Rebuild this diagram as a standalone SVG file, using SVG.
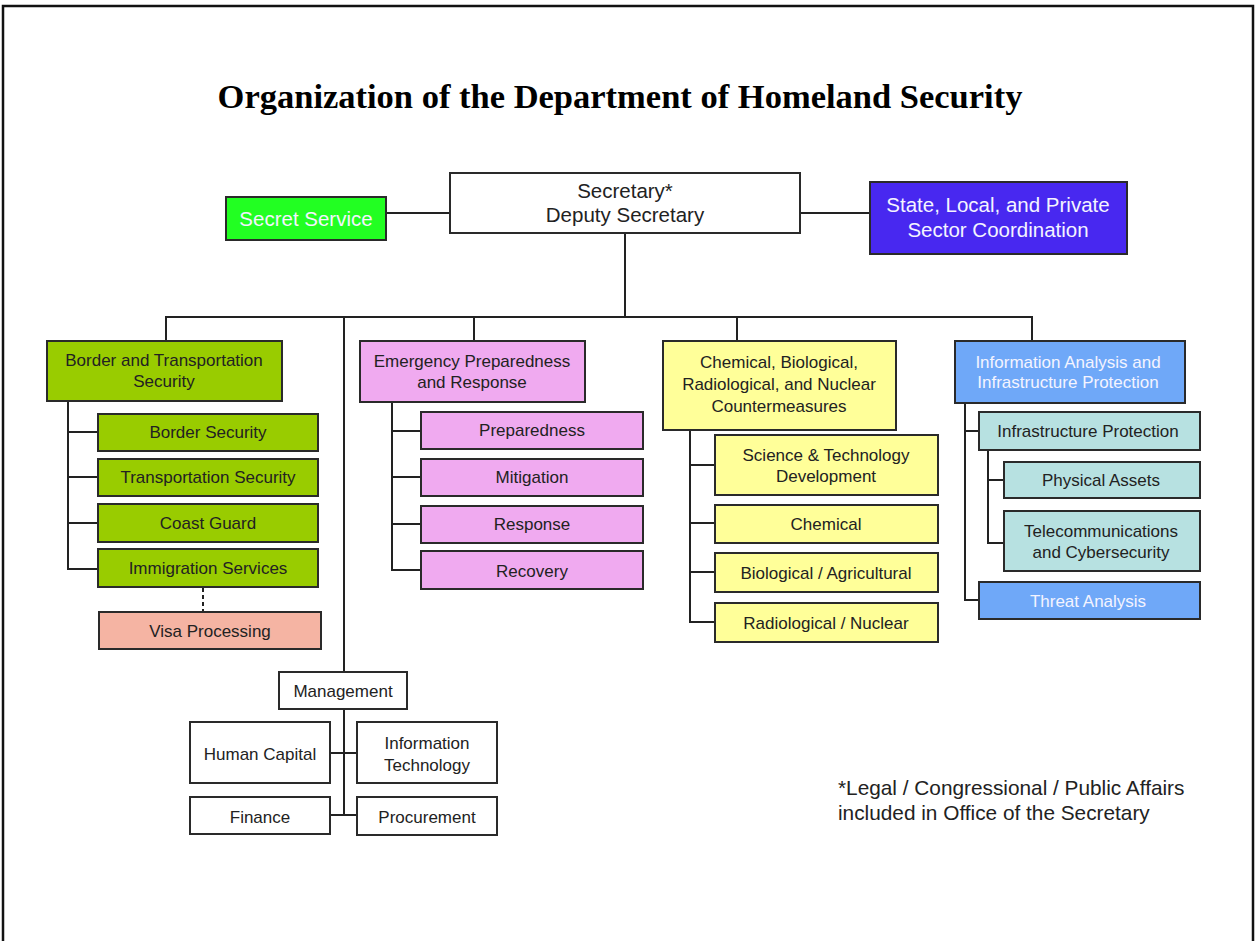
<svg xmlns="http://www.w3.org/2000/svg" width="1256" height="941" viewBox="0 0 1256 941">
<style>
  .b { stroke: #2a2a2a; stroke-width: 2; }
  .w { fill: #ffffff; }
  .t { font-family: "Liberation Sans", Arial, sans-serif; font-size: 17px; fill: #222222; text-anchor: middle; }
  .tl { font-family: "Liberation Sans", Arial, sans-serif; font-size: 20.5px; fill: #222222; text-anchor: middle; }
  .wt { fill: #f4f4ff; }
  .c { stroke: #222222; stroke-width: 2; fill: none; }
  .green { fill: #99cc00; }
  .violet { fill: #f0aaf0; }
  .yellow { fill: #ffff99; }
  .blue { fill: #6fa8f8; }
  .teal { fill: #b7e1e1; }
</style>
<rect x="0" y="0" width="1256" height="941" fill="#ffffff"/>
<path d="M3 941 V6 H1253 V941" fill="none" stroke="#111111" stroke-width="2.5"/>
<text x="620" y="108" font-family="'Liberation Serif', 'Times New Roman', serif" font-size="34.5" font-weight="bold" text-anchor="middle" fill="#000000">Organization of the Department of Homeland Security</text>

<g id="connectors">
  <path class="c" d="M386 213 H450"/>
  <path class="c" d="M800 213 H870"/>
  <path class="c" d="M625 233 V317"/>
  <path class="c" d="M166 341 V317 H1032 V341"/>
  <path class="c" d="M344 317 V672"/>
  <path class="c" d="M474 317 V341"/>
  <path class="c" d="M737 317 V341"/>
  <path class="c" d="M68 401 V569 H98 M68 432 H98 M68 477 H98 M68 523 H98"/>
  <path class="c" d="M203 588 V612" stroke-dasharray="4,3"/>
  <path class="c" d="M392 402 V570 H421 M392 431 H421 M392 477 H421 M392 524 H421"/>
  <path class="c" d="M690 430 V622 H715 M690 465 H715 M690 523 H715 M690 572 H715"/>
  <path class="c" d="M965 403 V600 H979 M965 431 H979"/>
  <path class="c" d="M988 450 V543 H1004 M988 480 H1004"/>
  <path class="c" d="M344 709 V815 M330 753 H357 M330 815 H357"/>
</g>

<g id="secretary">
  <rect class="b w" x="450" y="173" width="350" height="60"/>
  <text class="tl" x="625" y="198">Secretary*</text>
  <text class="tl" x="625" y="222">Deputy Secretary</text>
</g>
<g id="secret-service">
  <rect class="b" fill="#22ff22" x="226" y="197" width="160" height="43"/>
  <text class="tl wt" x="306" y="226">Secret Service</text>
</g>
<g id="state-local">
  <rect class="b" fill="#4828f0" x="870" y="182" width="257" height="72"/>
  <text class="tl wt" x="998" y="212">State, Local, and Private</text>
  <text class="tl wt" x="998" y="237">Sector Coordination</text>
</g>

<g id="bts">
  <rect class="b green" x="47" y="341" width="235" height="60"/>
  <text class="t" x="164" y="366">Border and Transportation</text>
  <text class="t" x="164" y="387">Security</text>
</g>
<g id="border-security">
  <rect class="b green" x="98" y="414" width="220" height="37"/>
  <text class="t" x="208" y="438">Border Security</text>
</g>
<g id="transportation-security">
  <rect class="b green" x="98" y="459" width="220" height="37"/>
  <text class="t" x="208" y="483">Transportation Security</text>
</g>
<g id="coast-guard">
  <rect class="b green" x="98" y="504" width="220" height="38"/>
  <text class="t" x="208" y="529">Coast Guard</text>
</g>
<g id="immigration-services">
  <rect class="b green" x="98" y="549" width="220" height="38"/>
  <text class="t" x="208" y="574">Immigration Services</text>
</g>
<g id="visa-processing">
  <rect class="b" fill="#f5b4a3" x="99" y="612" width="222" height="37"/>
  <text class="t" x="210" y="637">Visa Processing</text>
</g>

<g id="epr">
  <rect class="b violet" x="360" y="341" width="225" height="61"/>
  <text class="t" x="472" y="367">Emergency Preparedness</text>
  <text class="t" x="472" y="388">and Response</text>
</g>
<g id="preparedness">
  <rect class="b violet" x="421" y="412" width="222" height="37"/>
  <text class="t" x="532" y="436">Preparedness</text>
</g>
<g id="mitigation">
  <rect class="b violet" x="421" y="459" width="222" height="37"/>
  <text class="t" x="532" y="483">Mitigation</text>
</g>
<g id="response">
  <rect class="b violet" x="421" y="506" width="222" height="37"/>
  <text class="t" x="532" y="530">Response</text>
</g>
<g id="recovery">
  <rect class="b violet" x="421" y="551" width="222" height="38"/>
  <text class="t" x="532" y="577">Recovery</text>
</g>

<g id="cbrn">
  <rect class="b yellow" x="663" y="341" width="233" height="89"/>
  <text class="t" x="779" y="368">Chemical, Biological,</text>
  <text class="t" x="779" y="390">Radiological, and Nuclear</text>
  <text class="t" x="779" y="412">Countermeasures</text>
</g>
<g id="science-technology">
  <rect class="b yellow" x="715" y="435" width="223" height="60"/>
  <text class="t" x="826" y="461">Science &amp; Technology</text>
  <text class="t" x="826" y="482">Development</text>
</g>
<g id="chemical">
  <rect class="b yellow" x="715" y="505" width="223" height="38"/>
  <text class="t" x="826" y="530">Chemical</text>
</g>
<g id="biological">
  <rect class="b yellow" x="715" y="553" width="223" height="39"/>
  <text class="t" x="826" y="579">Biological / Agricultural</text>
</g>
<g id="radiological">
  <rect class="b yellow" x="715" y="603" width="223" height="39"/>
  <text class="t" x="826" y="629">Radiological / Nuclear</text>
</g>

<g id="iaip">
  <rect class="b blue" x="955" y="341" width="230" height="62"/>
  <text class="t wt" x="1068" y="368">Information Analysis and</text>
  <text class="t wt" x="1068" y="388">Infrastructure Protection</text>
</g>
<g id="infrastructure-protection">
  <rect class="b teal" x="979" y="412" width="221" height="38"/>
  <text class="t" x="1088" y="437">Infrastructure Protection</text>
</g>
<g id="physical-assets">
  <rect class="b teal" x="1004" y="462" width="196" height="36"/>
  <text class="t" x="1101" y="486">Physical Assets</text>
</g>
<g id="telecommunications">
  <rect class="b teal" x="1004" y="511" width="196" height="60"/>
  <text class="t" x="1101" y="537">Telecommunications</text>
  <text class="t" x="1101" y="558">and Cybersecurity</text>
</g>
<g id="threat-analysis">
  <rect class="b blue" x="979" y="582" width="221" height="37"/>
  <text class="t wt" x="1088" y="607">Threat Analysis</text>
</g>

<g id="management">
  <rect class="b w" x="279" y="672" width="128" height="37"/>
  <text class="t" x="343" y="697">Management</text>
</g>
<g id="human-capital">
  <rect class="b w" x="190" y="722" width="140" height="61"/>
  <text class="t" x="260" y="760">Human Capital</text>
</g>
<g id="information-technology">
  <rect class="b w" x="357" y="722" width="140" height="61"/>
  <text class="t" x="427" y="749">Information</text>
  <text class="t" x="427" y="771">Technology</text>
</g>
<g id="finance">
  <rect class="b w" x="190" y="797" width="140" height="37"/>
  <text class="t" x="260" y="823">Finance</text>
</g>
<g id="procurement">
  <rect class="b w" x="357" y="797" width="140" height="38"/>
  <text class="t" x="427" y="823">Procurement</text>
</g>

<g id="footnote">
  <text font-family="'Liberation Sans', Arial, sans-serif" font-size="20.8" fill="#222222" x="838" y="795">*Legal / Congressional / Public Affairs</text>
  <text font-family="'Liberation Sans', Arial, sans-serif" font-size="20.8" fill="#222222" x="838" y="820">included in Office of the Secretary</text>
</g>
</svg>
